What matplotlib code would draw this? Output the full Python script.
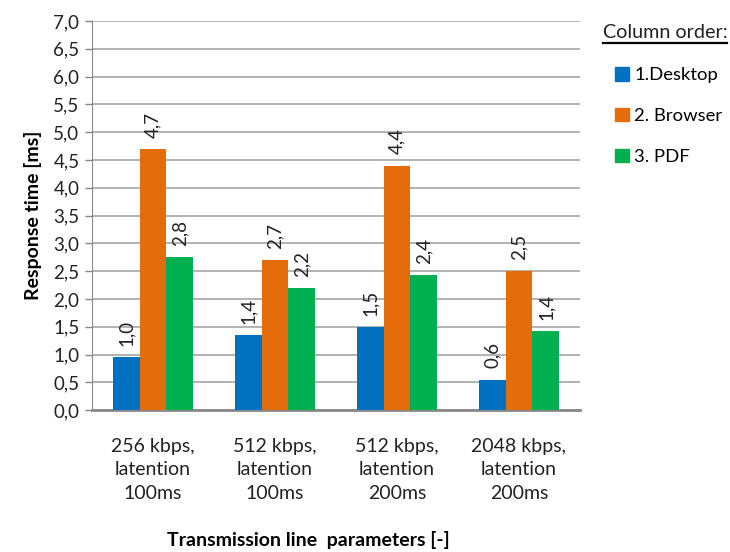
import numpy as np
import matplotlib.pyplot as plt
from matplotlib.lines import Line2D
from matplotlib.patches import Patch

plt.rcParams['font.family'] = ['Lato', 'DejaVu Sans']

# data
categories = ['256 kbps,\nlatention\n100ms', '512 kbps,\nlatention\n100ms',
              '512 kbps,\nlatention\n200ms', '2048 kbps,\nlatention\n200ms']
series_names = ['1.Desktop', '2. Browser', '3. PDF']
desktop = [0.95, 1.35, 1.50, 0.55]
browser = [4.70, 2.70, 4.40, 2.50]
pdf = [2.75, 2.20, 2.43, 1.43]
desktop_lbl = ['1,0', '1,4', '1,5', '0,6']
browser_lbl = ['4,7', '2,7', '4,4', '2,5']
pdf_lbl = ['2,8', '2,2', '2,4', '1,4']
colors = ['#0070C0', '#E46C0A', '#00B050']

fig = plt.figure(figsize=(7.3, 5.52), dpi=100)
ax = fig.add_axes([0.126, 0.257, 0.6685, 0.705])

x = np.arange(len(categories))
w = 0.22
all_vals = [desktop, browser, pdf]
all_lbls = [desktop_lbl, browser_lbl, pdf_lbl]
for i, (vals, lbls) in enumerate(zip(all_vals, all_lbls)):
    pos = x + (i - 1) * w
    ax.bar(pos, vals, width=w, color=colors[i], zorder=3)
    for px, v, t in zip(pos, vals, lbls):
        ax.annotate(t, (px, v), xytext=(0, 8), textcoords='offset points',
                    rotation=90, ha='center', va='bottom', fontsize=13.5,
                    color='#222222')

ax.set_xlim(-0.5, len(categories) - 0.5)
ax.set_ylim(0, 7)
ax.set_yticks(np.arange(0, 7.01, 0.5))
ax.set_yticklabels([f'{v:.1f}'.replace('.', ',') for v in np.arange(0, 7.01, 0.5)])
ax.set_xticks(x)
ax.set_xticklabels(categories, linespacing=1.47)
ax.tick_params(axis='x', length=0, pad=20, labelsize=14, colors='#222222')
ax.tick_params(axis='y', length=5, width=1, color='#888888', labelsize=13.5,
               labelcolor='#222222', pad=4)
ax.grid(axis='y', color='#a6a6a6', linewidth=1.2, zorder=0)
for s in ['top', 'right']:
    ax.spines[s].set_visible(False)
ax.spines['left'].set_color('#888888')
ax.spines['bottom'].set_color('#888888')
ax.spines['bottom'].set_linewidth(2)

ax.set_ylabel('Response time [ms]', fontsize=14, fontweight='bold', labelpad=8)
fig.text(308 / 730, 1 - 540 / 552, 'Transmission line  parameters [-]',
         ha='center', va='center', fontsize=14, fontweight='bold')

# legend
title = fig.text(665 / 730, 1 - 32 / 552, 'Column order:', ha='center',
                 va='center', fontsize=14.2, color='#222222')
fig.canvas.draw()
bb = title.get_window_extent().transformed(fig.transFigure.inverted())
fig.add_artist(Line2D([bb.x0, bb.x1], [bb.y0 - 0.005, bb.y0 - 0.005],
                      transform=fig.transFigure, color='black', linewidth=1.6))

handles = [Patch(color=c) for c in colors]
fig.legend(handles, series_names, loc='upper left',
           bbox_to_anchor=(615 / 730, 1 - 67 / 552), frameon=False,
           borderpad=0, borderaxespad=0,
           fontsize=13.3, handlelength=0.75, handleheight=0.75,
           handletextpad=0.3, labelspacing=1.33)

fig.savefig('out.png', dpi=100)
